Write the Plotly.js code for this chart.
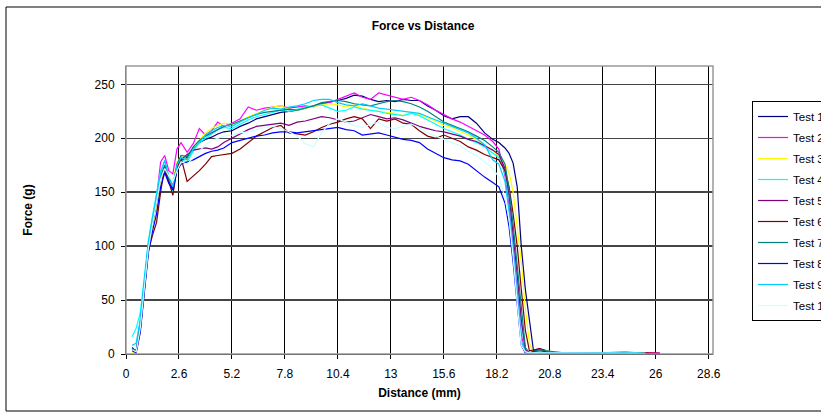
<!DOCTYPE html>
<html>
<head>
<meta charset="utf-8">
<script src="https://cdn.plot.ly/plotly-3.0.1.min.js"></script>
<style>html,body{margin:0;padding:0;background:#fff;}#chart{width:821px;height:413px;}</style>
</head>
<body>
<div id="chart"></div>
<script>
// Distance (mm) sample points shared by all tests
const distance = [0.3,0.5,0.7,0.9,1.1,1.3,1.5,1.7,1.9,2.1,2.3,2.5,2.7,3.0,3.3,3.6,3.9,4.2,4.5,4.8,
  5.2,5.6,6.0,6.4,6.8,7.2,7.6,8.0,8.4,8.8,9.2,9.6,10.0,10.4,10.8,11.2,11.6,12.0,12.4,12.8,
  13.2,13.6,14.0,14.4,14.8,15.2,15.6,16.0,16.4,16.8,17.2,17.6,18.0,18.3,18.6,18.8,19.0,19.2,19.4,19.6,
  19.8,20.0,20.3,20.6,21.0,21.5,22.5,23.5,24.5,25.5,26.2];

// Force (g) for each test
const test1 = [6,2,22,58,97,118,138,162,172,160,153,172,180,182,191,196,199,201,204,206,
  207,211,214,218,220,222,224,225,226,228,230,232,234,235,237,240,239,236,234,235,
  234,236,235,235,230,226,221,218,220,220,214,205,199,196,191,186,177,155,100,60,
  30,3,5,3,1,1,1,0.5,1,0.5,null];
const test2 = [3,2,30,68,102,125,145,178,184,170,167,190,196,187,195,209,203,207,215,211,
  214,218,229,226,228,229,230,228,229,230,229,232,233,236,239,242,238,236,242,240,
  238,236,238,235,231,226,222,218,215,211,207,203,197,190,165,138,103,60,18,2,
  1,1,2,1,1,1,0.5,0.5,1,0.5,1];
const test3 = [2,1,20,55,95,115,135,160,172,165,160,178,183,180,190,198,205,209,212,214,
  213,216,220,223,226,229,230,227,226,228,229,231,232,231,229,231,228,226,225,224,
  223,221,224,222,219,216,212,210,206,203,199,194,189,183,176,168,150,118,85,42,
  10,1,2,3,2,1,1,0.5,0.5,1,null];
const test4 = [16,24,38,70,105,128,148,170,178,160,150,172,180,178,188,196,200,204,208,210,
  209,213,217,220,222,224,226,225,227,229,230,231,228,225,226,229,227,226,225,223,
  222,221,223,221,217,213,209,206,203,199,196,192,186,182,168,145,110,70,28,3,
  1,1,2,1,1,0.5,0.5,1,0.5,1,null];
const test5 = [5,3,28,66,100,120,140,163,170,160,152,172,180,185,189,190,191,190,192,196,
  200,204,208,211,212,213,214,212,215,216,218,220,219,217,215,216,219,222,220,218,
  219,217,214,211,209,207,206,204,202,199,197,193,189,185,172,148,113,74,32,4,
  1,2,3,2,1,1,1,0.5,1,1,null];
const test6 = [4,2,22,60,96,110,122,150,174,160,147,172,182,160,165,170,176,183,184,185,
  186,190,196,202,206,210,212,205,204,203,206,210,213,215,218,220,218,209,218,216,
  218,214,213,207,202,200,203,200,197,192,189,185,182,180,170,155,130,100,60,22,
  3,4,5,2,1,1,0.5,1,0.5,1,0.5];
const test7 = [5,3,26,64,100,122,142,165,175,163,156,176,184,183,192,198,202,205,208,211,
  213,216,219,222,224,225,226,227,226,228,230,233,234,235,234,232,231,230,232,234,
  235,234,232,229,225,220,215,212,209,206,202,198,192,187,176,153,120,83,40,6,
  1,2,4,3,2,1,1,1,1.5,0.5,null];
const test8 = [3,1,20,56,94,114,130,155,168,158,152,170,176,178,180,183,186,188,189,191,
  196,198,200,202,203,205,206,206,205,206,207,208,209,210,208,207,203,204,205,203,
  201,199,198,196,190,186,182,180,179,176,170,164,159,155,140,118,85,45,8,1,
  1,2,1,1,1,0.5,0.5,1,0.5,null,null];
const test9 = [8,10,32,70,104,126,146,168,180,165,155,175,182,180,190,197,203,207,210,212,
  211,215,219,222,226,228,227,229,230,232,235,236,236,233,231,230,232,230,228,227,
  226,225,224,223,220,217,214,211,208,205,200,194,180,176,160,132,95,55,12,2,
  1,1,2,1,1,1,0.5,1,2,0.5,null];
const test10 = [4,2,24,62,98,120,140,162,172,165,160,170,178,176,182,188,194,198,200,202,
  203,205,206,208,210,211,209,206,202,195,192,205,214,218,215,212,210,213,215,210,
  209,211,213,210,205,202,199,196,193,188,184,178,172,164,145,125,90,48,8,2,
  1,1,1,1,0.5,0.5,0.5,1,0.5,0.5,null];

const seriesNames = ["Test 1","Test 2","Test 3","Test 4","Test 5","Test 6","Test 7","Test 8","Test 9","Test 10"];
const seriesValues = [test1,test2,test3,test4,test5,test6,test7,test8,test9,test10];
const seriesColors = ["#000080","#FF00FF","#FFFF00","#00FFFF","#800080","#800000","#008080","#0000FF","#00CCFF","#CCFFFF"];

const xTickVals = [0,2.6,5.2,7.8,10.4,13,15.6,18.2,20.8,23.4,26,28.6];
const xTickText = ["0","2.6","5.2","7.8","10.4","13","15.6","18.2","20.8","23.4","26","28.6"];
const yTickVals = [0,50,100,150,200,250];

const FONT = "Liberation Sans, Arial, sans-serif";

const traces = seriesNames.map((n, i) => ({
  type: "scatter", mode: "lines", name: n,
  x: distance, y: seriesValues[i],
  line: {color: seriesColors[i], width: 1.2},
  legendgroup: "g" + i
}));

const layout = {
  width: 821, height: 413,
  margin: {l: 126, r: 108, t: 66, b: 59, autoexpand: false},
  paper_bgcolor: "#fff", plot_bgcolor: "#fff",
  font: {family: FONT, size: 12, color: "#000"},
  title: {text: "<b>Force vs Distance</b>", font: {family: FONT, size: 12, color: "#000"},
          x: 0.506, xref: "paper", xanchor: "center", y: 1 - 26/413, yref: "container", yanchor: "middle"},
  xaxis: {
    range: [0, 28.81], tickmode: "array", tickvals: xTickVals, ticktext: xTickText,
    showgrid: true, gridcolor: "#000", gridwidth: 1, zeroline: false,
    showline: true, linecolor: "#000", linewidth: 1,
    ticks: "outside", ticklen: 4, tickcolor: "#000", tickwidth: 1,
    ticklabelstandoff: 5,
    tickfont: {family: FONT, size: 12, color: "#000"},
    title: {text: "<b>Distance (mm)</b>", font: {family: FONT, size: 12, color: "#000"}, standoff: 8},
    fixedrange: true
  },
  yaxis: {
    range: [0, 267], tickmode: "array", tickvals: yTickVals,
    showgrid: true, gridcolor: "#444", gridwidth: 1.5, zeroline: false,
    showline: true, linecolor: "#555", linewidth: 1,
    ticks: "outside", ticklen: 4, tickcolor: "#000", tickwidth: 1,
    ticklabelstandoff: 4,
    tickfont: {family: FONT, size: 12, color: "#000"},
    title: {text: "<b>Force (g)</b>", font: {family: FONT, size: 12, color: "#000"}, standoff: 59},
    fixedrange: true
  },
  showlegend: true,
  legend: {
    x: (752 - 126) / 587, xanchor: "left", xref: "paper",
    y: (354 - 101) / 288, yanchor: "top", yref: "paper",
    bgcolor: "#fff", bordercolor: "#000", borderwidth: 1,
    font: {family: FONT, size: 11.5, color: "#000"},
    tracegroupgap: 2, itemwidth: 30
  },
  shapes: [
    {type: "rect", xref: "paper", yref: "paper", x0: 0, x1: 1, y0: 0, y1: 1,
     line: {color: "#999", width: 1.5}, layer: "above"},
    {type: "rect", xref: "paper", yref: "paper",
     x0: (6 - 126) / 587, x1: (840 - 126) / 587, y0: (354 - 411) / 288, y1: (354 - 7) / 288,
     line: {color: "#000", width: 1}, layer: "below"}
  ]
};

Plotly.newPlot("chart", traces, layout, {staticPlot: true, displayModeBar: false});
</script>
</body>
</html>
